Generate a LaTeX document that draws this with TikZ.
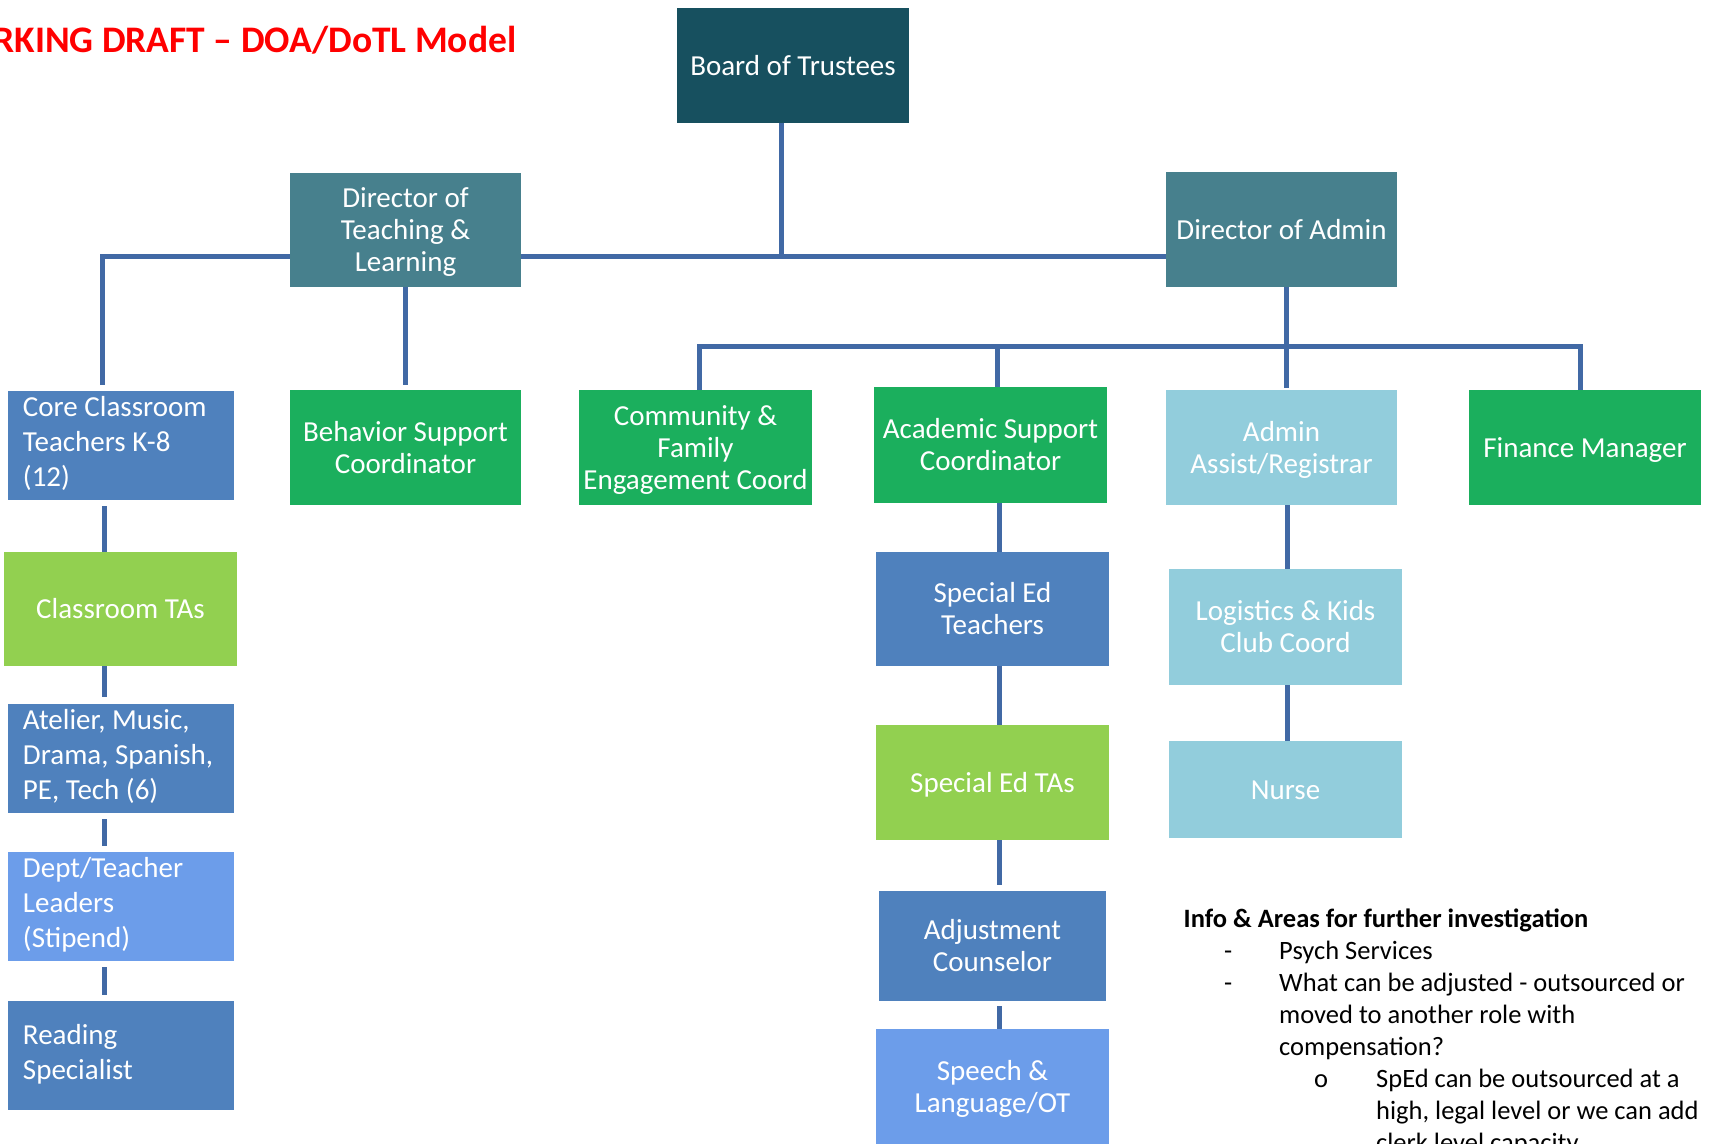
\documentclass[tikz,border=0pt]{standalone}
\usepackage{fontspec}
\setmainfont{Carlito}
\definecolor{boardc}{HTML}{17505F}
\definecolor{dirc}{HTML}{47808D}
\definecolor{greenc}{HTML}{1BAF5D}
\definecolor{lgreenc}{HTML}{92D050}
\definecolor{lbluec}{HTML}{92CDDC}
\definecolor{bluec}{HTML}{4F81BD}
\definecolor{cornc}{HTML}{6C9DEA}
\definecolor{linec}{HTML}{4169A5}
\newcommand\bs{\rule[-6pt]{0pt}{31pt}}
\newcommand\ls{\rule[-9pt]{0pt}{30pt}}
\begin{document}
\begin{tikzpicture}[x=1pt,y=-1pt,
  box/.style={rectangle, inner sep=0pt, text=white, align=center,
    font=\fontsize{29}{32}\selectfont},
  lbox/.style={rectangle, inner xsep=15pt, inner ysep=0pt, text=white, align=flush left,
    font=\fontsize{29}{35}\selectfont},
  conn/.style={draw=linec, line width=5pt},
  info/.style={anchor=base west, inner sep=0pt, text=black,
    font=\fontsize{26.5}{32}\selectfont},
]
\useasboundingbox (0,0) rectangle (1713,1143);
\clip (0,0) rectangle (1713,1143);
\fill[white] (0,0) rectangle (1713,1143);

\node[anchor=base east, inner sep=0pt, text=red,
  font=\bfseries\fontsize{37.5}{40}\selectfont] (title) at (516.5,52) {WORKING DRAFT – DOA/DoTL Model};

% top level
\node[box, fill=boardc, minimum width=232pt, minimum height=115pt] (b) at (793,65.5) {\bs Board of Trustees\bs};
\node[box, fill=dirc, minimum width=231pt, minimum height=114pt] (dotl) at (405.5,230) {\bs Director of\\Teaching \&\\Learning\bs};
\node[box, fill=dirc, minimum width=231pt, minimum height=115pt] (da) at (1281.5,229.5) {\bs Director of Admin\bs};

% second row
\node[lbox, fill=bluec, text width=196pt, minimum height=109pt] (core) at (121,445.5) {\ls Core Classroom\\Teachers K-8\\(12)\ls};
\node[box, fill=greenc, minimum width=231pt, minimum height=115pt] (beh) at (405.5,447.5) {\bs Behavior Support\\Coordinator\bs};
\node[box, fill=greenc, minimum width=233pt, minimum height=115pt] (comm) at (695.5,447.5) {\bs Community \&\\Family\\Engagement Coord\bs};
\node[box, fill=greenc, minimum width=233pt, minimum height=116pt] (acad) at (990.5,445) {\bs Academic Support\\Coordinator\bs};
\node[box, fill=lbluec, minimum width=231pt, minimum height=115pt] (aar) at (1281.5,447.5) {\bs Admin\\Assist/Registrar\bs};
\node[box, fill=greenc, minimum width=232pt, minimum height=115pt] (fin) at (1585,447.5) {\bs Finance Manager\bs};

% left column
\node[box, fill=lgreenc, minimum width=233pt, minimum height=114pt] (tas) at (120.5,609) {\bs Classroom TAs\bs};
\node[lbox, fill=bluec, text width=196pt, minimum height=109pt] (atel) at (121,758.5) {\ls Atelier, Music,\\Drama, Spanish,\\PE, Tech (6)\ls};
\node[lbox, fill=cornc, text width=196pt, minimum height=109pt] (dept) at (121,906.5) {\ls Dept/Teacher\\Leaders\\(Stipend)\ls};
\node[lbox, fill=bluec, text width=196pt, minimum height=109pt] (read) at (121,1055.5) {\ls Reading\\Specialist\ls};

% middle column
\node[box, fill=bluec, minimum width=233pt, minimum height=114pt] (set) at (992.5,609) {\bs Special Ed\\Teachers\bs};
\node[box, fill=lgreenc, minimum width=233pt, minimum height=115pt] (sta) at (992.5,782.5) {\bs Special Ed TAs\bs};
\node[box, fill=bluec, minimum width=227pt, minimum height=110pt] (adj) at (992.5,946) {\bs Adjustment\\Counselor\bs};
\node[box, fill=cornc, minimum width=233pt, minimum height=115pt] (sp) at (992.5,1086.5) {\bs Speech \&\\Language/OT\bs};
\fill[cornc] (sp.south west) rectangle ([yshift=-20pt]sp.south east);

% right column
\node[box, fill=lbluec, minimum width=233pt, minimum height=116pt] (log) at (1285.5,627) {\bs Logistics \& Kids\\Club Coord\bs};
\node[box, fill=lbluec, minimum width=233pt, minimum height=97pt] (nurse) at (1285.5,789.5) {\bs Nurse\bs};

% junction coordinates
\coordinate (j1) at (781,256);
\coordinate (jl) at (102,256);
\coordinate (h2l) at (699,346);
\coordinate (h2r) at (1580,346);
\coordinate (ja) at (997,346);
\coordinate (jd) at (1286,346);
\coordinate (lc) at (104,0);
\coordinate (mc) at (999,0);
\coordinate (rc) at (1287,0);

% connectors
\draw[conn] ([xshift=-12pt]b.south) -- (j1);
\draw[conn] (dotl.east |- j1) -- (da.west |- j1);
\draw[conn, shorten >=6pt] (dotl.west |- jl) -- (jl) -- (jl |- core.north);
\draw[conn, shorten >=5pt] (dotl.south) -- (beh.north);
\draw[conn, shorten >=2pt] (jd |- da.south) -- (jd |- aar.north);
\draw[conn] (h2l |- comm.north) -- (h2l) -- (h2r) -- (h2r |- fin.north);
\draw[conn] (ja) -- (ja |- acad.north);

\draw[conn] ([yshift=-6pt]core.south -| lc) -- (tas.north -| lc);
\draw[conn] (tas.south -| lc) -- ([yshift=7pt]atel.north -| lc);
\draw[conn] ([yshift=-6pt]atel.south -| lc) -- ([yshift=6pt]dept.north -| lc);
\draw[conn] ([yshift=-6pt]dept.south -| lc) -- ([yshift=6pt]read.north -| lc);

\draw[conn] (acad.south -| mc) -- (set.north -| mc);
\draw[conn] (set.south -| mc) -- (sta.north -| mc);
\draw[conn] (sta.south -| mc) -- ([yshift=6pt]adj.north -| mc);
\draw[conn] ([yshift=-5pt]adj.south -| mc) -- (sp.north -| mc);

\draw[conn] (aar.south -| rc) -- (log.north -| rc);
\draw[conn] (log.south -| rc) -- (nurse.north -| rc);

% info text
\node[info, font=\bfseries\fontsize{26.5}{32}\selectfont] (i0) at (1183.5,927) {Info \& Areas for further investigation};
\node[info] (d1) at (1224,959) {-};
\node[info] (i1) at (1279,959) {Psych Services};
\node[info] (d2) at (1224,991) {-};
\node[info] (i2) at (1279,991) {What can be adjusted - outsourced or};
\node[info] (i3) at (1279,1023) {moved to another role with};
\node[info] (i4) at (1279,1055) {compensation?};
\node[info] (o1) at (1314,1087) {o};
\node[info] (i5) at (1376,1087) {SpEd can be outsourced at a};
\node[info] (i6) at (1376,1119) {high, legal level or we can add};
\node[info] (i7) at (1376,1151) {clerk level capacity};
\end{tikzpicture}
\end{document}
